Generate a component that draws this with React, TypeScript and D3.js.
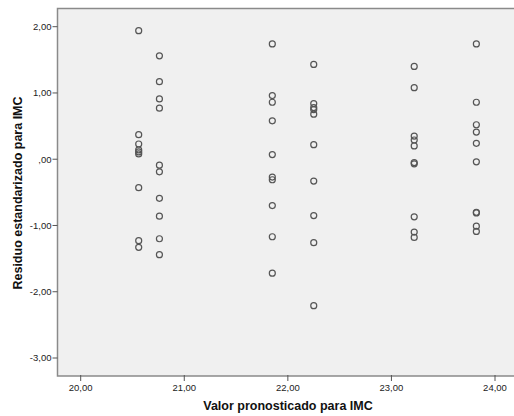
import React from "react";
import * as d3 from "d3";

const xTicks = [20, 21, 22, 23, 24];
const yTicks = [2, 1, 0, -1, -2, -3];

const col1X = 20.56;
const col1Y = [1.94, 0.37, 0.23, 0.14, 0.11, 0.08, -0.43, -1.23, -1.33];
const col2X = 20.76;
const col2Y = [1.56, 1.17, 0.91, 0.77, -0.09, -0.19, -0.59, -0.86, -1.2, -1.44];
const col3X = 21.85;
const col3Y = [1.74, 0.96, 0.86, 0.58, 0.07, -0.27, -0.31, -0.7, -1.17, -1.72];
const col4X = 22.25;
const col4Y = [1.43, 0.84, 0.78, 0.75, 0.68, 0.22, -0.33, -0.85, -1.26, -2.21];
const col5X = 23.22;
const col5Y = [1.4, 1.08, 0.35, 0.29, 0.2, -0.05, -0.07, -0.87, -1.1, -1.18];
const col6X = 23.82;
const col6Y = [1.74, 0.86, 0.52, 0.41, 0.24, -0.04, -0.8, -0.81, -1.01, -1.09];

const columns: [number, number[]][] = [
  [col1X, col1Y],
  [col2X, col2Y],
  [col3X, col3Y],
  [col4X, col4Y],
  [col5X, col5Y],
  [col6X, col6Y],
];

const fmt = (v: number) => {
  const s = d3.format(".2f")(v).replace(".", ",").replace("−", "-");
  return s.replace(/^(-?)0,/, "$1,");
};

export default function App() {
  const W = 514, H = 416;
  const x = d3.scaleLinear().domain([20, 24]).range([80.7, 495]);
  const y = d3.scaleLinear().domain([-3, 2]).range([358, 26.7]);
  const left = 57.5, top = 8.5, bottom = 376;
  const font = "'Liberation Sans', Arial, sans-serif";
  const points = columns.flatMap(([cx, ys]) => ys.map((v) => [cx, v] as [number, number]));
  return (
    <svg width={W} height={H} style={{ position: "absolute", left: 0, top: 0, background: "#fff" }} fontFamily={font}>
      <rect x={left} y={top} width={W - left + 10} height={bottom - top} fill="#f0f0f0" stroke="#8a8a8a" strokeWidth={1.5} />
      {yTicks.map((t) => (
        <g key={"y" + t}>
          <line x1={left - 5} x2={left} y1={y(t)} y2={y(t)} stroke="#555" strokeWidth={1} />
          <text x={left - 6} y={y(t)} dy="0.35em" textAnchor="end" fontSize={9.5} fill="#222">{fmt(t)}</text>
        </g>
      ))}
      {xTicks.map((t) => (
        <g key={"x" + t}>
          <line x1={x(t)} x2={x(t)} y1={bottom - 1} y2={bottom + 5} stroke="#555" strokeWidth={1} />
          <text x={x(t)} y={bottom + 15} textAnchor="middle" fontSize={9.5} fill="#222">{fmt(t)}</text>
        </g>
      ))}
      {points.map(([px, py], i) => (
        <circle key={i} cx={x(px)} cy={y(py)} r={3} fill="none" stroke="#555" strokeWidth={1.2} />
      ))}
      <text x={288} y={410} textAnchor="middle" fontSize={12.5} fontWeight="bold" fill="#111">Valor pronosticado para IMC</text>
      <text transform={`translate(22,193) rotate(-90)`} textAnchor="middle" fontSize={12.5} fontWeight="bold" fill="#111">Residuo estandarizado para IMC</text>
    </svg>
  );
}
